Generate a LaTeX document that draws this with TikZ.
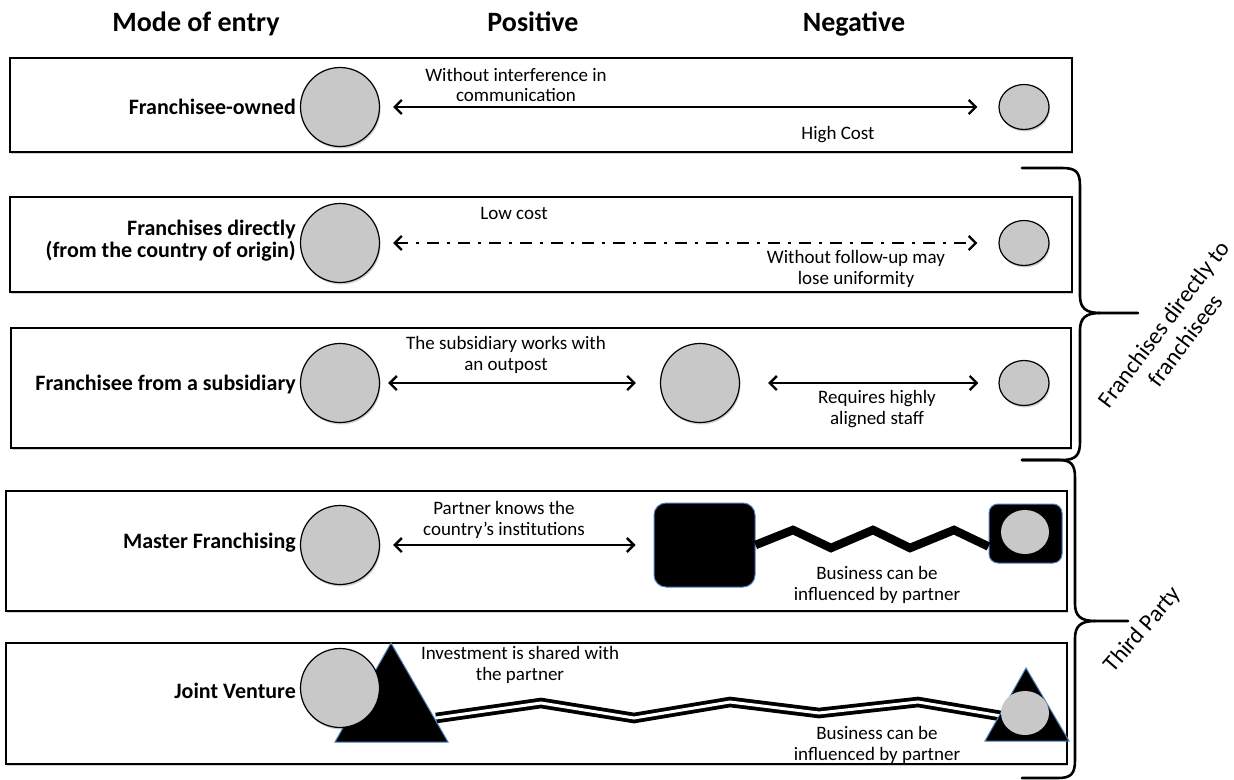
\documentclass[tikz,border=0pt]{standalone}
\usepackage{fontspec}
\setmainfont{Carlito}
\usetikzlibrary{arrows.meta,shapes.geometric,calc,shadows}
\definecolor{cgray}{RGB}{200,200,200}
\definecolor{eblue}{RGB}{79,129,189}
\begin{document}
\begin{tikzpicture}[x=1bp,y=-1bp,
  softshadow/.style={drop shadow={shadow xshift=1bp, shadow yshift=-2bp, opacity=0.18, fill=black}},
  rowbox/.style={draw=black, fill=white, line width=1.3bp, inner sep=0, softshadow},
  bubble/.style={circle, draw=black, line width=1.2bp, fill=cgray, minimum size=79bp, inner sep=0, softshadow},
  smallbubble/.style={ellipse, draw=black, line width=1.2bp, fill=cgray, minimum width=50bp, minimum height=45bp, inner sep=0, softshadow},
  innerbubble/.style={ellipse, fill=cgray, minimum width=48bp, minimum height=44bp, inner sep=0},
  head/.style={anchor=base, font=\fontsize{28bp}{30bp}\selectfont\bfseries},
  mode/.style={anchor=east, align=right, font=\fontsize{22bp}{22bp}\selectfont\bfseries, inner sep=0},
  note/.style={align=center, font=\fontsize{19bp}{20.5bp}\selectfont, inner sep=0},
  grouplabel/.style={align=center, font=\fontsize{23.5bp}{27bp}\selectfont, inner sep=0},
  link/.style={line width=2.4bp, {Straight Barb[length=7bp,width=14bp]}-{Straight Barb[length=7bp,width=14bp]}},
  dashlink/.style={link, dash pattern=on 12bp off 8bp on 3bp off 8bp},
  bracepath/.style={line width=2.6bp, line cap=round, line join=round},
  partner/.style={fill=black, draw=eblue, line width=1bp, rounded corners=12bp, inner sep=0},
  zig/.style={line width=8.5bp, line join=miter},
  dzig/.style={double=white, double distance=3bp, line width=3.8bp, line join=miter},
]
\useasboundingbox (0,0) rectangle (1234,780);
\fill[white] (0,0) rectangle (1234,780);

% headers
\node[head] (h1) at (196,32) {Mode of entry};
\node[head] (h2) at (533,32) {Positive};
\node[head] (h3) at (854,32) {Negative};

% row boxes
\node[rowbox, minimum width=1062bp, minimum height=94bp] (r1) at (541,105) {};
\node[rowbox, minimum width=1062bp, minimum height=95bp] (r2) at (541,244.5) {};
\node[rowbox, minimum width=1060bp, minimum height=120bp] (r3) at (541,388) {};
\node[rowbox, minimum width=1061bp, minimum height=120bp] (r4) at (536.5,551) {};
\node[rowbox, minimum width=1061bp, minimum height=121bp] (r5) at (536.5,703.5) {};

% row 1
\node[mode] (m1) at (296,107) {Franchisee-owned};
\node[bubble] (a1) at (340,107) {};
\node[smallbubble] (b1) at (1024,107) {};
\draw[link, shorten <=13bp, shorten >=21bp] (a1) -- (b1);
\node[note] (t1) at (516,85) {Without interference in\\communication};
\node[note] (t2) at (838,135) {High Cost};

% row 2
\node[mode] (m2) at (296,241) {Franchises directly\\(from the country of origin)};
\node[bubble] (a2) at (340,243) {};
\node[smallbubble] (b2) at (1024,243) {};
\draw[dashlink, shorten <=13bp, shorten >=21bp] (a2) -- (b2);
\node[note] (t3) at (514,213) {Low cost};
\node[note] (t4) at (856,269) {Without follow-up may\\lose uniformity};

% row 3
\node[mode] (m3) at (296,385) {Franchisee from a subsidiary};
\node[bubble] (a3) at (340,383) {};
\node[bubble] (c3) at (700,383) {};
\node[smallbubble] (b3) at (1024,383) {};
\draw[link, shorten <=8bp, shorten >=24bp] (a3) -- (c3);
\draw[link, shorten <=28bp, shorten >=20bp] (c3) -- (b3);
\node[note] (t5) at (506,355) {The subsidiary works with\\an outpost};
\node[note] (t6) at (877,409) {Requires highly\\aligned staff};

% row 4
\node[mode] (m4) at (296,543) {Master Franchising};
\node[bubble] (a4) at (340,545) {};
\node[partner, minimum width=101bp, minimum height=84bp] (sq) at (704.5,545) {};
\draw[link, shorten <=13bp, shorten >=18bp] (a4) -- (sq);
\node[partner, rounded corners=9bp, minimum width=73bp, minimum height=59bp] (sqs) at (1025.5,533.5) {};
\node[innerbubble] (i4) at (1025,532) {};
\draw[zig] (sq.east) -- (793,530) -- (831,548) -- (873,530) -- (910,548) -- (954,530) -- ($(sqs.west)+(0,13)$);
\node[note] (t7) at (504,520) {Partner knows the\\country's institutions};
\node[note] (t8) at (877,585) {Business can be\\influenced by partner};

% row 5
\node[mode] (m5) at (296,691) {Joint Venture};
\coordinate (jstart) at (436,718);
\coordinate (jend) at (1001,716);
\draw[dzig] (jstart) -- (541,703) -- (634,718) -- (730,702) -- (819,713) -- (918,702) -- (jend);
\fill[black] (391,643) -- (335,742) -- (448,742) -- cycle;
\draw[eblue, line width=1bp, line join=miter] (391,643) -- (335,742) -- (448,742) -- cycle;
\node[bubble] (a5) at (340,688) {};
\fill[black] (1026,668) -- (985,741) -- (1069,741) -- cycle;
\draw[eblue, line width=1bp, line join=miter] (1026,668) -- (985,741) -- (1069,741) -- cycle;
\node[innerbubble] (i5) at (1025,713) {};
\node[note] (t9) at (520,665) {Investment is shared with\\the partner};
\node[note] (t10) at (877,745) {Business can be\\influenced by partner};

% braces
\draw[bracepath] (1022,168) -- (1062,168) .. controls (1076,168) and (1080,172) .. (1080,186)
  -- (1080,296) .. controls (1080,308) and (1086,313) .. (1100,313) -- (1138,313);
\draw[bracepath] (1100,313) .. controls (1086,313) and (1080,318) .. (1080,330)
  -- (1080,442) .. controls (1080,455) and (1076,460) .. (1062,460) -- (1022,460);
\draw[bracepath] (1022,460) -- (1058,460) .. controls (1071,460) and (1075,464) .. (1075,478)
  -- (1075,604) .. controls (1075,616) and (1081,621) .. (1095,621) -- (1128,621);
\draw[bracepath] (1095,621) .. controls (1081,621) and (1075,626) .. (1075,638)
  -- (1075,760) .. controls (1075,774) and (1071,778) .. (1058,778) -- (1022,778);

\node[grouplabel, rotate=53] (g1) at (1174,332) {Franchises directly to\\franchisees};
\node[grouplabel, rotate=49] (g2) at (1143,630) {Third Party};
\end{tikzpicture}
\end{document}
